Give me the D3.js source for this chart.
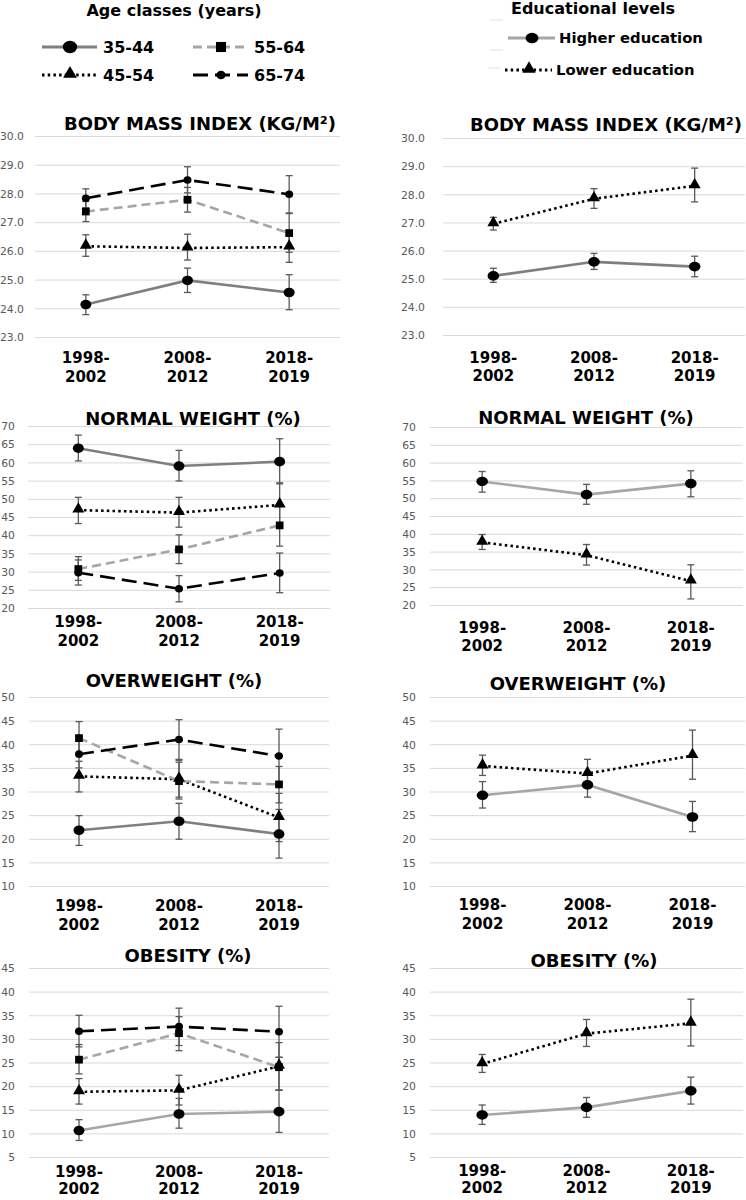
<!DOCTYPE html>
<html><head><meta charset="utf-8">
<script src="https://cdn.jsdelivr.net/npm/d3@7"></script>
<style>body{margin:0;background:#fff}svg{display:block}</style>
</head><body>
<svg id="c" width="746" height="1200"></svg>
<script>
// ---------- data ----------
const periods = ["1998-2002", "2008-2012", "2018-2019"];
const periodLines = [["1998-", "2002"], ["2008-", "2012"], ["2018-", "2019"]];
const ageGroups = ["35-44", "45-54", "55-64", "65-74"];
const eduGroups = ["Higher education", "Lower education"];

const bmiTicks = [23, 24, 25, 26, 27, 28, 29, 30];
const nwTicks = [20, 25, 30, 35, 40, 45, 50, 55, 60, 65, 70];
const owTicks = [10, 15, 20, 25, 30, 35, 40, 45, 50];
const obTicks = [5, 10, 15, 20, 25, 30, 35, 40, 45];

// Body mass index by age (rows follow ageGroups)
const bmiAgeMean = [[24.13, 24.97, 24.55], [26.16, 26.10, 26.13], [27.37, 27.78, 26.62], [27.83, 28.47, 27.97]];
const bmiAgeLo   = [[23.78, 24.55, 23.95], [25.81, 25.68, 25.60], [27.02, 27.35, 25.95], [27.50, 28.02, 27.32]];
const bmiAgeHi   = [[24.47, 25.40, 25.17], [26.56, 26.58, 26.62], [27.72, 28.21, 27.30], [28.16, 28.93, 28.62]];
// Body mass index by education (rows follow eduGroups)
const bmiEduMean = [[25.10, 25.60, 25.43], [26.95, 27.84, 28.30]];
const bmiEduLo   = [[24.87, 25.33, 25.07], [26.73, 27.50, 27.73]];
const bmiEduHi   = [[25.37, 25.90, 25.80], [27.18, 28.20, 28.93]];

// Normal weight (%)
const nwAgeMean = [[63.9, 59.0, 60.2], [46.9, 46.2, 48.3], [30.7, 36.1, 42.7], [29.7, 25.3, 29.6]];
const nwAgeLo   = [[60.4, 54.9, 54.1], [43.2, 42.2, 42.1], [27.6, 32.2, 37.0], [26.3, 21.7, 24.2]];
const nwAgeHi   = [[67.5, 63.3, 66.5], [50.4, 50.4, 54.4], [34.1, 40.1, 48.4], [33.2, 28.9, 35.1]];
const nwEduMean = [[54.7, 51.0, 54.1], [37.6, 34.0, 26.7]];
const nwEduLo   = [[51.7, 48.3, 50.4], [35.6, 31.2, 21.7]];
const nwEduHi   = [[57.5, 53.9, 57.7], [39.8, 37.0, 31.3]];

// Overweight (%)
const owAgeMean = [[21.8, 23.7, 21.0], [33.2, 32.6, 24.5], [41.3, 32.2, 31.5], [37.9, 41.0, 37.5]];
const owAgeLo   = [[18.6, 19.9, 15.9], [29.9, 28.8, 19.4], [37.8, 28.4, 27.6], [35.0, 36.8, 31.8]];
const owAgeHi   = [[24.9, 27.5, 26.2], [36.4, 36.2, 29.6], [44.8, 36.6, 35.3], [41.5, 45.2, 43.2]];
const owEduMean = [[29.2, 31.4, 24.6], [35.4, 33.8, 37.6]];
const owEduLo   = [[26.5, 28.8, 21.5], [33.4, 31.0, 32.6]];
const owEduHi   = [[32.1, 34.2, 27.9], [37.7, 36.8, 43.0]];

// Obesity (%)
const obAgeMean = [[10.6, 14.1, 14.6], [18.8, 19.1, 24.2], [25.6, 31.2, 24.0], [31.6, 32.6, 31.5]];
const obAgeLo   = [[8.5, 11.1, 10.2], [16.2, 16.0, 19.2], [22.6, 27.5, 19.1], [28.3, 28.6, 26.1]];
const obAgeHi   = [[12.9, 17.4, 19.1], [21.6, 22.3, 29.2], [28.8, 34.7, 26.1], [35.0, 36.5, 36.9]];
const obEduMean = [[13.9, 15.5, 19.0], [24.7, 31.1, 33.3]];
const obEduLo   = [[11.9, 13.4, 16.2], [22.9, 28.4, 28.5]];
const obEduHi   = [[16.0, 17.6, 21.9], [26.7, 34.1, 38.4]];

// ---------- styles ----------
const DARKGRAY = "#7f7f7f", LIGHTGRAY = "#a6a6a6";
const styleFor = {
  "35-44": {color: DARKGRAY, dash: null, sym: "circle", rx: 5.5, ry: 4.8},
  "45-54": {color: "#000", dash: "2.5,3.2", sym: "triangle", size: 62},
  "55-64": {color: LIGHTGRAY, dash: "9,5", sym: "square", size: 60},
  "65-74": {color: "#000", dash: "15,7", sym: "circle", rx: 4, ry: 3.8},
  "Higher education": {color: LIGHTGRAY, dash: null, sym: "circle", rx: 5.8, ry: 4.8},
  "Lower education": {color: "#000", dash: "2.5,3.2", sym: "triangle", size: 62}
};

const panels = [
  {title: "BODY MASS INDEX (KG/M²)", x0: 35, x1: 340, yT: 136, yB: 337, dom: [23, 30], ticks: bmiTicks, fmt: ".1f", tickX: 24, titleX: 200, titleY: 123, labY: 358, gap: 19, groups: ageGroups, mean: bmiAgeMean, lo: bmiAgeLo, hi: bmiAgeHi, solid: DARKGRAY},
  {title: "BODY MASS INDEX (KG/M²)", x0: 443, x1: 745, yT: 138, yB: 335, dom: [23, 30], ticks: bmiTicks, fmt: ".1f", tickX: 425, titleX: 606, titleY: 124, labY: 358, gap: 18, groups: eduGroups, mean: bmiEduMean, lo: bmiEduLo, hi: bmiEduHi, solid: DARKGRAY},
  {title: "NORMAL WEIGHT (%)", x0: 28, x1: 330, yT: 426, yB: 608, dom: [20, 70], ticks: nwTicks, fmt: "d", tickX: 15, titleX: 193, titleY: 418, labY: 622, gap: 19, groups: ageGroups, mean: nwAgeMean, lo: nwAgeLo, hi: nwAgeHi, solid: DARKGRAY},
  {title: "NORMAL WEIGHT (%)", x0: 430, x1: 743, yT: 427, yB: 605, dom: [20, 70], ticks: nwTicks, fmt: "d", tickX: 416, titleX: 586, titleY: 417, labY: 628, gap: 18, groups: eduGroups, mean: nwEduMean, lo: nwEduLo, hi: nwEduHi, solid: LIGHTGRAY},
  {title: "OVERWEIGHT (%)", x0: 29, x1: 329, yT: 697, yB: 886, dom: [10, 50], ticks: owTicks, fmt: "d", tickX: 15, titleX: 174, titleY: 680, labY: 906, gap: 19, groups: ageGroups, mean: owAgeMean, lo: owAgeLo, hi: owAgeHi, solid: DARKGRAY},
  {title: "OVERWEIGHT (%)", x0: 430, x1: 745, yT: 697, yB: 886, dom: [10, 50], ticks: owTicks, fmt: "d", tickX: 416, titleX: 578, titleY: 683, labY: 905, gap: 19, groups: eduGroups, mean: owEduMean, lo: owEduLo, hi: owEduHi, solid: LIGHTGRAY},
  {title: "OBESITY (%)", x0: 29, x1: 329, yT: 968, yB: 1157, dom: [5, 45], ticks: obTicks, fmt: "d", tickX: 15, titleX: 188, titleY: 955, labY: 1172, gap: 17, groups: ageGroups, mean: obAgeMean, lo: obAgeLo, hi: obAgeHi, solid: LIGHTGRAY},
  {title: "OBESITY (%)", x0: 430, x1: 743, yT: 968, yB: 1157, dom: [5, 45], ticks: obTicks, fmt: "d", tickX: 416, titleX: 594, titleY: 960, labY: 1171, gap: 17, groups: eduGroups, mean: obEduMean, lo: obEduLo, hi: obEduHi, solid: LIGHTGRAY}
];

const svg = d3.select("#c");
const symType = {triangle: d3.symbolTriangle, square: d3.symbolSquare};

function drawMarker(g, st, x, y, scale) {
  scale = scale || 1;
  if (st.sym === "circle") {
    g.append("ellipse").attr("cx", x).attr("cy", y).attr("rx", st.rx * scale).attr("ry", st.ry * scale).attr("fill", "#000");
  } else {
    const dy = st.sym === "triangle" ? -1 * scale : 0;
    g.append("path").attr("d", d3.symbol(symType[st.sym], st.size * scale * scale)())
      .attr("transform", `translate(${x},${y + dy})`).attr("fill", "#000");
  }
}

panels.forEach(p => {
  const g = svg.append("g");
  const x = d3.scalePoint().domain(periods).range([p.x0, p.x1]).padding(0.5);
  const y = d3.scaleLinear().domain(p.dom).range([p.yB, p.yT]);

  const ax = g.append("g").attr("transform", `translate(${p.x0},0)`)
    .call(d3.axisLeft(y).tickValues(p.ticks).tickFormat(d3.format(p.fmt))
      .tickSize(-(p.x1 - p.x0)).tickPadding(p.x0 - p.tickX));
  ax.select(".domain").remove();
  ax.selectAll(".tick line").attr("stroke", "#d9d9d9").attr("stroke-width", 1);
  ax.selectAll(".tick text").attr("fill", "#595959").attr("font-family", "DejaVu Sans")
    .attr("font-size", 10.8).attr("dy", "0.35em");

  g.append("text").attr("x", p.titleX).attr("y", p.titleY + 6.5).attr("text-anchor", "middle")
    .attr("font-family", "DejaVu Sans").attr("font-weight", "bold").attr("font-size", 18)
    .attr("fill", "#000").text(p.title);

  periods.forEach((per, i) => {
    const t = g.append("text").attr("text-anchor", "middle").attr("font-family", "DejaVu Sans")
      .attr("font-weight", "bold").attr("font-size", 15).attr("fill", "#000");
    t.append("tspan").attr("x", x(per)).attr("y", p.labY + 5).text(periodLines[i][0]);
    t.append("tspan").attr("x", x(per)).attr("y", p.labY + 5 + p.gap).text(periodLines[i][1]);
  });

  // lines
  p.groups.forEach((grp, gi) => {
    const st = styleFor[grp];
    const color = st.dash ? st.color : p.solid;
    const pts = periods.map((per, i) => [x(per), y(p.mean[gi][i])]);
    g.append("path").attr("d", d3.line()(pts)).attr("fill", "none")
      .attr("stroke", color).attr("stroke-width", 2.6)
      .attr("stroke-dasharray", st.dash);
  });
  // error bars
  p.groups.forEach((grp, gi) => {
    periods.forEach((per, i) => {
      const cx = x(per), ylo = y(p.lo[gi][i]), yhi = y(p.hi[gi][i]);
      g.append("line").attr("x1", cx).attr("x2", cx).attr("y1", ylo).attr("y2", yhi)
        .attr("stroke", "#595959").attr("stroke-width", 1.3);
      [ylo, yhi].forEach(yy => g.append("line").attr("x1", cx - 3.5).attr("x2", cx + 3.5)
        .attr("y1", yy).attr("y2", yy).attr("stroke", "#595959").attr("stroke-width", 1.3));
    });
  });
  // markers
  p.groups.forEach((grp, gi) => {
    const st = styleFor[grp];
    periods.forEach((per, i) => drawMarker(g, st, x(per), y(p.mean[gi][i])));
  });
});

// ---------- legends ----------
const leg = svg.append("g").attr("font-family", "DejaVu Sans").attr("font-weight", "bold").attr("fill", "#000");
leg.append("text").attr("x", 174).attr("y", 16).attr("text-anchor", "middle").attr("font-size", 16).text("Age classes (years)");
leg.append("text").attr("x", 593).attr("y", 14).attr("text-anchor", "middle").attr("font-size", 16).text("Educational levels");

const ageLegend = [
  {grp: "35-44", x: 42, y: 47},
  {grp: "55-64", x: 193, y: 47},
  {grp: "45-54", x: 42, y: 75},
  {grp: "65-74", x: 193, y: 75}
];
ageLegend.forEach(d => {
  const st = styleFor[d.grp];
  leg.append("line").attr("x1", d.x).attr("x2", d.x + 55).attr("y1", d.y).attr("y2", d.y)
    .attr("stroke", st.color).attr("stroke-width", 3).attr("stroke-dasharray", st.dash);
  drawMarker(leg, st, d.x + 28, d.y, d.grp === "35-44" ? 1.3 : (d.grp === "55-64" ? 1.3 : 1.15));
  leg.append("text").attr("x", d.x + 61).attr("y", d.y + 6).attr("font-size", 16).text(d.grp);
});

const eduLegend = [
  {grp: "Higher education", x: 508, y: 38},
  {grp: "Lower education", x: 505, y: 70}
];
eduLegend.forEach(d => {
  const st = styleFor[d.grp];
  leg.append("line").attr("x1", d.x).attr("x2", d.x + 47).attr("y1", d.y).attr("y2", d.y)
    .attr("stroke", st.color).attr("stroke-width", 3).attr("stroke-dasharray", st.dash);
  drawMarker(leg, st, d.x + 24, d.y, 1.1);
  leg.append("text").attr("x", d.x + 51).attr("y", d.y + 5).attr("font-size", 14.8).text(d.grp);
});
// faint marks beside the education legend
[[490, 503, 20], [490, 503, 50], [488, 500, 68]].forEach(a =>
  svg.append("line").attr("x1", a[0]).attr("x2", a[1]).attr("y1", a[2]).attr("y2", a[2])
    .attr("stroke", "#e0e0e0").attr("stroke-width", 1));
</script>
</body></html>
